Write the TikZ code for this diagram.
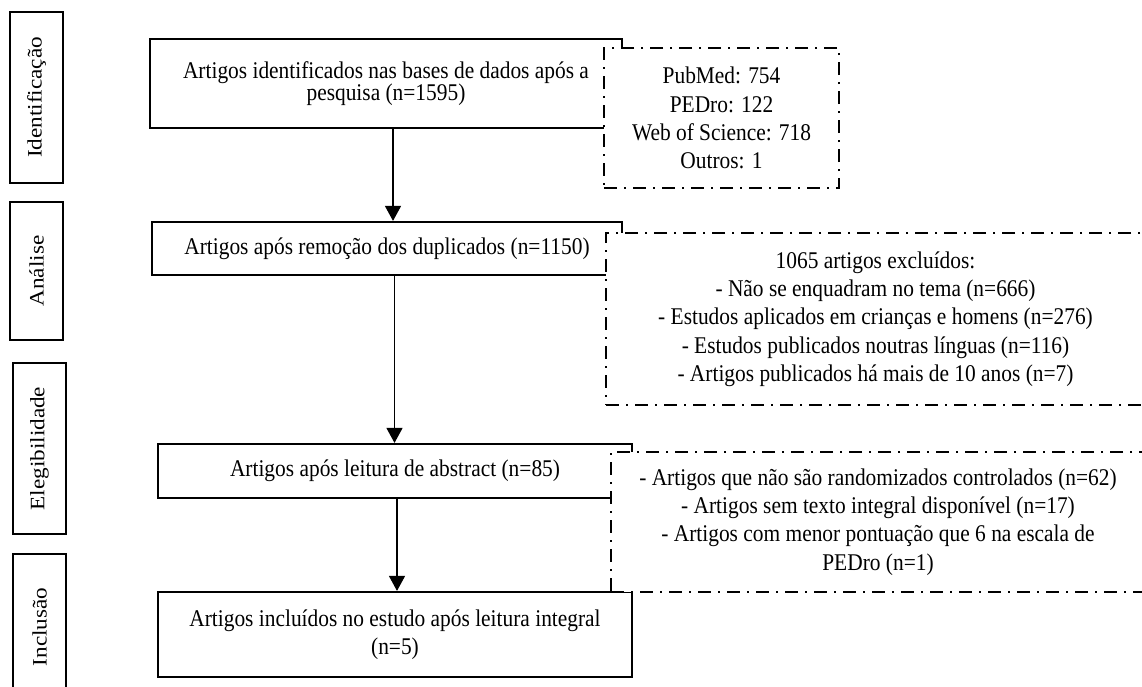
\documentclass[tikz,border=0pt]{standalone}
\usepackage{fontspec}
\setmainfont{Liberation Serif}
\usepackage{graphicx}
\usetikzlibrary{arrows.meta}
\newcommand{\vs}[1]{\scalebox{1}[1.12]{#1}}
\newcommand{\hs}[1]{\scalebox{1.13}[1]{#1}}
\begin{document}
\begin{tikzpicture}[x=1pt,y=-1pt,
  mainbox/.style={draw, line width=2.2pt, fill=white, inner sep=0pt, align=center,
    font=\fontsize{21.4}{28.3}\selectfont,
    execute at begin node={\setlength{\lineskiplimit}{-100pt}}},
  sidebox/.style={draw, line width=2.2pt, inner sep=0pt, rotate=90,
    minimum height=53pt, font=\fontsize{20.5}{24}\selectfont},
  dashbox/.style={draw, line width=1.8pt, dash pattern=on 13pt off 7pt on 2pt off 7pt,
    fill=white, inner sep=0pt, align=center,
    font=\fontsize{21.4}{28.3}\selectfont,
    execute at begin node={\setlength{\lineskiplimit}{-100pt}}},
  arr/.style={-{Triangle[width=16pt,length=15pt]}, line width=1.3pt}
]
\useasboundingbox (0,0) rectangle (1142,686);
\fill[white] (0,0) rectangle (1142,686);
\clip (0,0) rectangle (1142,686);

% stage labels
\node[sidebox, minimum width=171pt] (S1) at (36.5,97.5) {\hs{Identificação}};
\node[sidebox, minimum width=138pt] (S2) at (36.5,271) {\hs{Análise}};
\node[sidebox, minimum width=171pt] (S3) at (39.5,448.5) {\hs{Elegibilidade}};
\node[sidebox, minimum width=146pt] (S4) at (39.5,627) {\hs{Inclusão}};

% main flow
\node[mainbox, minimum width=472pt, minimum height=89pt,
  font=\fontsize{21.4}{21.8}\selectfont] (B1) at (386,83.5)
  {\vs{Artigos identificados nas bases de dados após a}\\\vs{pesquisa (n=1595)}};
\node[mainbox, minimum width=470pt, minimum height=53pt] (B2) at (387,248.5)
  {\vs{Artigos após remoção dos duplicados (n=1150)}};
\node[mainbox, minimum width=474pt, minimum height=54pt] (B3) at (395,471)
  {\vs{Artigos após leitura de abstract (n=85)}};
\node[mainbox, minimum width=474pt, minimum height=85pt] (B4) at (395,634.5)
  {\vs{Artigos incluídos no estudo após leitura integral}\\\vs{(n=5)}};

\coordinate (a1) at (393,0);
\coordinate (a2) at (394.5,0);
\coordinate (a3) at (397,0);
\draw[arr] (B1.south -| a1) -- (B2.north -| a1);
\draw[arr] (B2.south -| a2) -- (B3.north -| a2);
\draw[arr] (B3.south -| a3) -- (B4.north -| a3);

% side notes
\node[dashbox, minimum width=235pt, minimum height=140pt] (D1) at (721.5,118)
  {\vs{PubMed: 754}\\\vs{PEDro: 122}\\\vs{Web of Science: 718}\\\vs{Outros: 1}};
\node[dashbox, minimum width=539pt, minimum height=172pt] (D2) at (875.5,319)
  {\vs{1065 artigos excluídos:}\\
   \vs{- Não se enquadram no tema (n=666)}\\
   \vs{- Estudos aplicados em crianças e homens (n=276)}\\
   \vs{- Estudos publicados noutras línguas (n=116)}\\
   \vs{- Artigos publicados há mais de 10 anos (n=7)}};
\node[dashbox, minimum width=534pt, minimum height=140pt] (D3) at (878,522)
  {\vs{- Artigos que não são randomizados controlados (n=62)}\\
   \vs{- Artigos sem texto integral disponível (n=17)}\\
   \vs{- Artigos com menor pontuação que 6 na escala de}\\
   \vs{PEDro (n=1)}};
\end{tikzpicture}
\end{document}
